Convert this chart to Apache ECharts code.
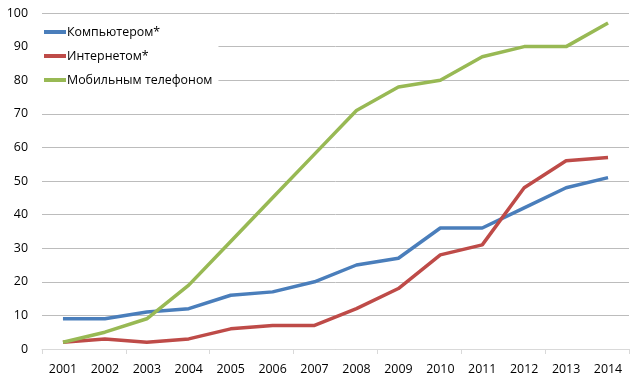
<!DOCTYPE html>
<html><head><meta charset="utf-8">
<script src="https://cdn.jsdelivr.net/npm/echarts@6/dist/echarts.min.js"></script>
<style>html,body{margin:0;padding:0;background:#fff}#c{width:640px;height:382px}</style>
</head><body><div id="c"></div>
<script>
const years = ['2001','2002','2003','2004','2005','2006','2007','2008','2009','2010','2011','2012','2013','2014'];
const computer = [9, 9, 11, 12, 16, 17, 20, 25, 27, 36, 36, 42, 48, 51];
const internet = [2, 3, 2, 3, 6, 7, 7, 12, 18, 28, 31, 48, 56, 57];
const mobile = [2, 5, 9, 19, 32, 45, 58, 71, 78, 80, 87, 90, 90, 97];
const names = ['Компьютером*', 'Интернетом*', 'Мобильным телефоном'];
const colors = ['#4A7EBB', '#BE4B48', '#98B954'];
const font = 'Open Sans';
const chart = echarts.init(document.getElementById('c'), null, {renderer: 'canvas'});
chart.setOption({
  animation: false,
  color: colors,
  textStyle: {fontFamily: font},
  grid: {left: 42, right: 11, top: 13, bottom: 33, containLabel: false},
  legend: {
    orient: 'vertical', left: 40, top: 22, padding: [4, 6, 4, 4],
    backgroundColor: '#fff', itemWidth: 22, itemHeight: 4, itemGap: 12,
    icon: 'rect',
    textStyle: {fontFamily: font, fontSize: 12.4, color: '#000', padding: [0, 0, 0, -4]},
    data: names
  },
  xAxis: {
    type: 'category', data: years, boundaryGap: true,
    axisLine: {lineStyle: {color: '#d9d9d9'}},
    axisTick: {show: true, interval: 1, length: 5, lineStyle: {color: '#d9d9d9'}},
    axisLabel: {color: '#000', fontSize: 12.4, margin: 14, fontFamily: font}
  },
  yAxis: {
    type: 'value', min: 0, max: 100, interval: 10,
    axisLine: {show: false}, axisTick: {show: false},
    axisLabel: {color: '#000', fontSize: 12.4, margin: 14, fontFamily: font},
    splitLine: {lineStyle: {color: '#bcbcbc', width: 1}}
  },
  series: [
    {name: names[0], type: 'line', data: computer, symbol: 'none', lineStyle: {width: 3.5}},
    {name: names[1], type: 'line', data: internet, symbol: 'none', lineStyle: {width: 3.5}},
    {name: names[2], type: 'line', data: mobile, symbol: 'none', lineStyle: {width: 3.5}}
  ]
});
</script></body></html>
